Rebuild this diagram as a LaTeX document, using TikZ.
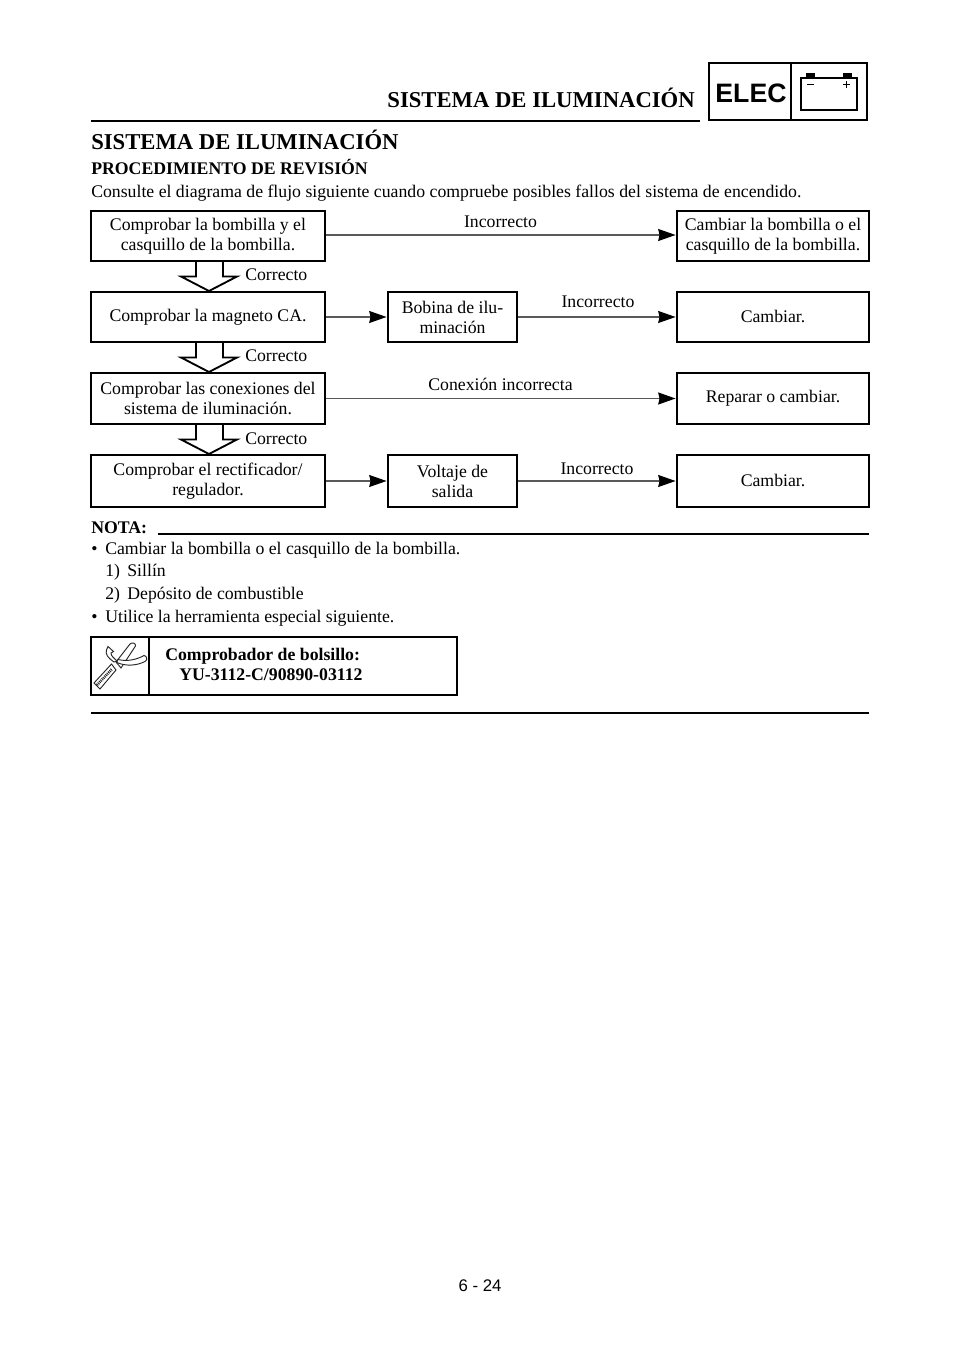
\documentclass[tikz,border=0pt]{standalone}
\usepackage{fontspec}
\setmainfont{Liberation Serif}
\newfontfamily\helv{Liberation Sans}
\usetikzlibrary{arrows.meta}
\newcommand{\fs}{\fontsize{13.3pt}{15pt}\selectfont}
\newcommand{\hs}{\fontsize{17pt}{19pt}\selectfont}
\tikzset{
  x=0.75pt,y=-0.75pt,
  flowbox/.style={draw=black,line width=2.2pt,fill=white,align=center,inner sep=0pt,font=\fs},
  link/.style={draw=black!65,line width=0.9pt,-{Stealth[length=13pt,width=9pt,inset=1pt,color=black]},shorten >=0pt},
  lbl/.style={inner sep=0pt,font=\fs},
  txt/.style={inner sep=0pt,anchor=base west,font=\fs},
  hollow/.style={draw=black,line width=1.4pt,fill=white,line join=miter},
  heavy/.style={draw=black,line width=2.2pt},
  icon/.style={draw=black!85,line width=0.7pt,fill=white}
}
% name, x1, y1, x2, y2, text
\newcommand{\bx}[6]{%
  \pgfmathsetmacro{\bw}{(#4-#2)*0.75}%
  \pgfmathsetmacro{\bh}{(#5-#3)*0.75}%
  \node[flowbox,minimum width=\bw pt,minimum height=\bh pt] (#1) at ({(#2+#4)/2},{(#3+#5)/2}) {#6};}
\newcommand{\hol}[1]{%
  \draw[hollow] (196,#1) -- (196,#1+15.5) -- (181,#1+15.5) -- (209,#1+30) -- (237,#1+15.5) -- (223,#1+15.5) -- (223,#1);}
\begin{document}
\begin{tikzpicture}
\useasboundingbox (0,0) rectangle (960,1358);
\fill[white] (0,0) rectangle (960,1358);
% header
\node[inner sep=0pt,anchor=base east,font=\hs\bfseries] (hdr) at (695,107.5) {SISTEMA DE ILUMINACIÓN};
\draw[heavy] (91,121) -- (700,121);
\draw[heavy] (709,63) rectangle (867,120);
\draw[heavy] (791,63) -- (791,120);
\node[inner sep=0pt,font=\helv\bfseries\fontsize{20pt}{24pt}\selectfont] (elec) at (751,93) {ELEC};
\draw[black,line width=0.9pt] (801,78) rectangle (857,110);
\fill[black] (806,73) rectangle (815,78);
\fill[black] (843,73) rectangle (852,78);
\draw[black,line width=1.3pt] (807,84.5) -- (814,84.5);
\draw[black,line width=1.3pt] (843,84.5) -- (850,84.5) (846.5,81) -- (846.5,88);
% headings
\node[txt,font=\hs\bfseries] (h1) at (91,150) {SISTEMA DE ILUMINACIÓN};
\node[txt,font=\fs\bfseries] (h2) at (91,175) {PROCEDIMIENTO DE REVISIÓN};
\node[txt] (h3) at (91,197.5) {Consulte el diagrama de flujo siguiente cuando compruebe posibles fallos del sistema de encendido.};
% hollow arrows
\hol{261}
\hol{342}
\hol{424}
% flow boxes
\bx{a1}{91}{211}{325}{261}{Comprobar la bombilla y el\\casquillo de la bombilla.}
\bx{a2}{91}{292}{325}{342}{Comprobar la magneto CA.}
\bx{a3}{91}{373}{325}{424}{Comprobar las conexiones del\\sistema de iluminación.}
\bx{a4}{91}{455}{325}{507}{Comprobar el rectificador/\\regulador.}
\bx{m2}{388}{292}{517}{342}{Bobina de ilu-\\minación}
\bx{m4}{388}{455}{517}{507}{Voltaje de\\salida}
\bx{r1}{677}{211}{869}{261}{Cambiar la bombilla o el\\casquillo de la bombilla.}
\bx{r2}{677}{292}{869}{342}{\raisebox{0.75pt}{Cambiar.}}
\bx{r3}{677}{373}{869}{424}{Reparar o cambiar.}
\bx{r4}{677}{455}{869}{507}{\raisebox{0.75pt}{Cambiar.}}
% connectors
\draw[link] ([yshift=0.75pt]a1.east) -- ([yshift=0.75pt]r1.west);
\draw[link] (a2) -- (m2);
\draw[link] (m2) -- (r2);
\draw[link] (a3) -- (r3);
\draw[link] (a4) -- (m4);
\draw[link] (m4) -- (r4);
% labels
\node[lbl,anchor=base west] (c1) at (245,281) {Correcto};
\node[lbl,anchor=base west] (c2) at (245,362) {Correcto};
\node[lbl,anchor=base west] (c3) at (245,444) {Correcto};
\node[lbl,anchor=base] (i1) at (500.5,227.5) {Incorrecto};
\node[lbl,anchor=base] (i2) at (598,308) {Incorrecto};
\node[lbl,anchor=base] (i3) at (500.5,391) {Conexión incorrecta};
\node[lbl,anchor=base] (i4) at (597,474) {Incorrecto};
% note
\node[txt,font=\fs\bfseries] (nota) at (91,533) {NOTA:};
\draw[heavy] (158,534) -- (869,534);
\node[txt] (b1) at (91,554) {•};
\node[txt] (t1) at (105,554) {Cambiar la bombilla o el casquillo de la bombilla.};
\node[txt] (t2) at (105,576) {1)\hspace{5.5pt}Sillín};
\node[txt] (t3) at (105,599) {2)\hspace{5.5pt}Depósito de combustible};
\node[txt] (b2) at (91,622) {•};
\node[txt] (t4) at (105,622) {Utilice la herramienta especial siguiente.};
% tool box
\draw[heavy] (91,637) rectangle (457,695);
\draw[heavy] (149,637) -- (149,695);
\node[txt,font=\fs\bfseries] (s1) at (165,660) {Comprobador de bolsillo:};
\node[txt,font=\fs\bfseries] (s2) at (179,680) {YU-3112-C/90890-03112};
\draw[heavy] (91,713) -- (869,713);
% tool icon
\draw[icon] (114,662) .. controls (108,658) and (105,654) .. (106.5,650) -- (108,646.5) -- (113.5,651.5) -- (111,653) .. controls (111,656) and (114,658) .. (117,661) -- cycle;
\draw[icon] (116,662) -- (130,644) .. controls (132,642) and (136,643) .. (135.5,646) -- (121,668) -- cycle;
\draw[icon] (118,659.5) .. controls (128,662) and (138,659) .. (144,655.5) .. controls (147,656) and (148,660) .. (145,661.5) .. controls (136,666) and (126,666) .. (118,663) .. controls (116.5,662) and (116.5,660) .. (118,659.5) -- cycle;
\draw[icon] (94,683) -- (100,689) -- (116,670) -- (111.5,664) -- cycle;
\draw[black!85,line width=2pt,dash pattern=on 0.7pt off 0.7pt] (97,685) -- (112,669);
\node[inner sep=0pt,font=\helv\fontsize{12.6pt}{15pt}\selectfont] (pg) at (480,1286) {6 - 24};
\end{tikzpicture}
\end{document}
